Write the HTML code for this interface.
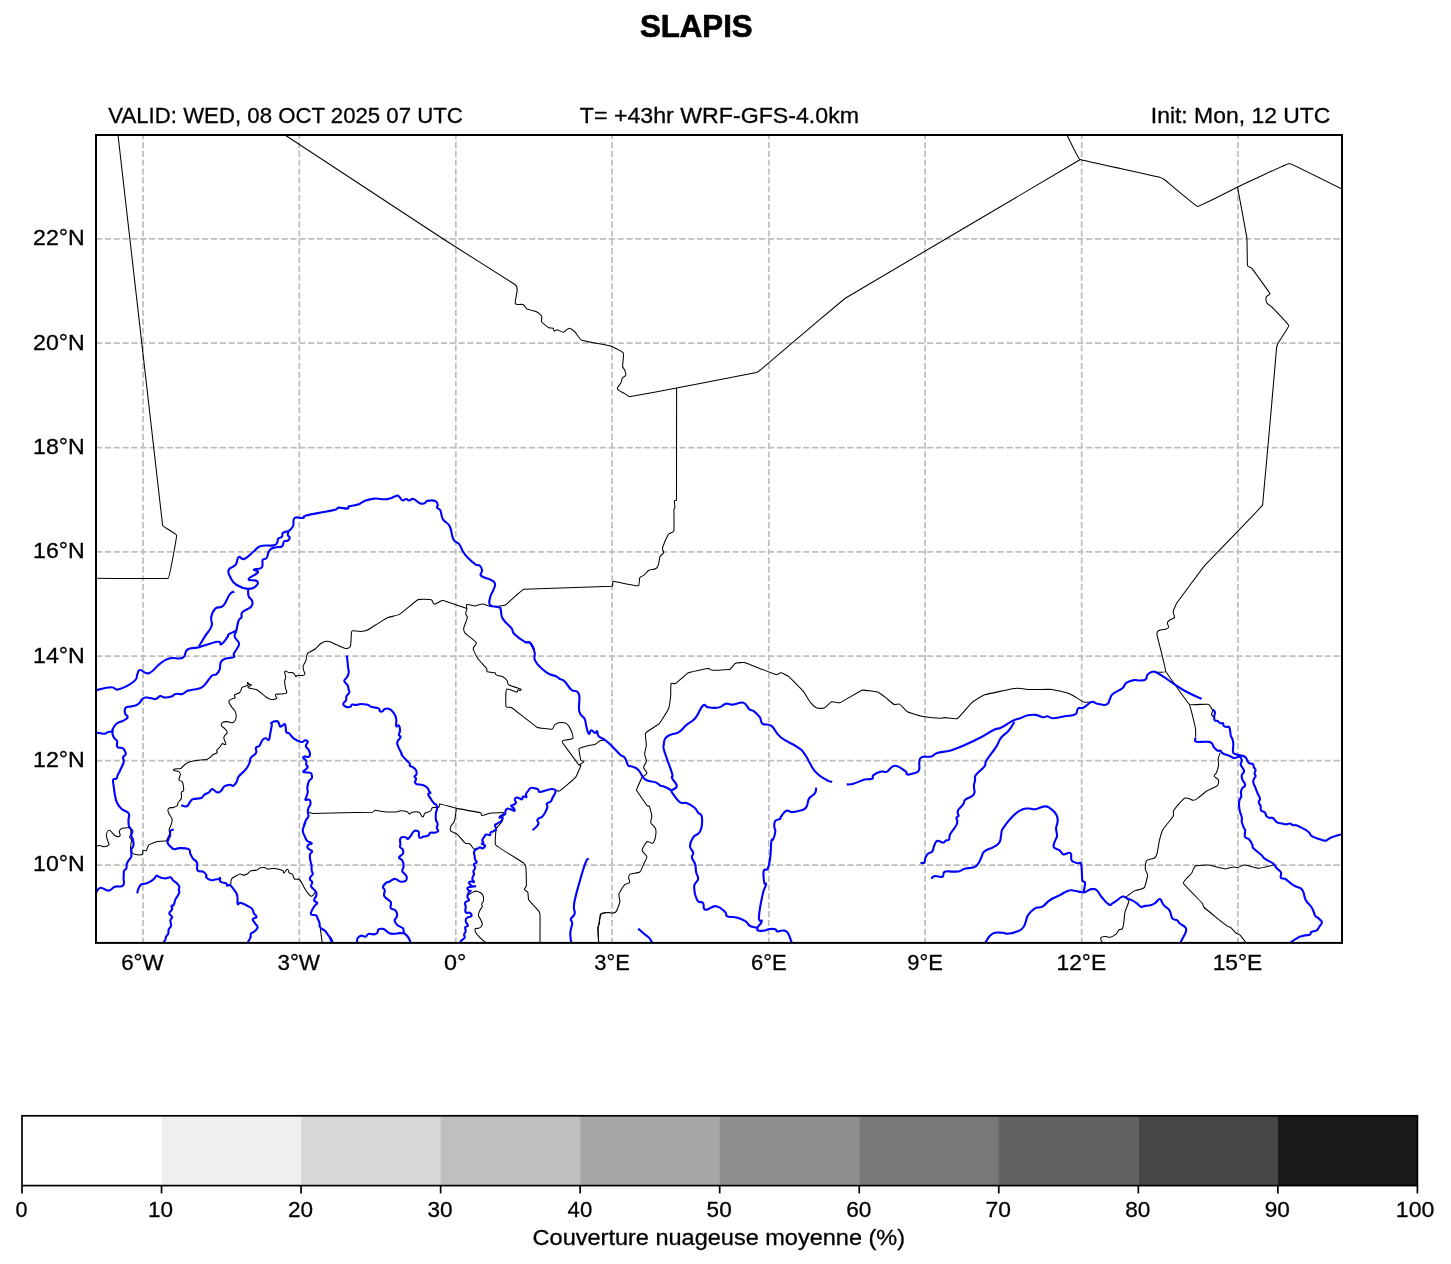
<!DOCTYPE html>
<html><head><meta charset="utf-8"><title>SLAPIS</title>
<style>html,body{margin:0;padding:0;background:#fff}body{width:1451px;height:1264px;overflow:hidden}svg{display:block;will-change:transform}text{font-family:"Liberation Sans",sans-serif;fill:#000}</style></head><body>
<svg width="1451" height="1264" viewBox="0 0 1451 1264">
<rect width="1451" height="1264" fill="#fff"/>
<text transform="translate(639.99 36.90) scale(0.9994 1)" font-size="31.2" stroke="#000" stroke-width="0.7" font-weight="bold">SLAPIS</text>
<text transform="translate(108.30 122.80) scale(0.9741 1)" font-size="22.8" stroke="#000" stroke-width="0.3">VALID: WED, 08 OCT 2025 07 UTC</text>
<text transform="translate(579.82 122.80) scale(1.0164 1)" font-size="22.8" stroke="#000" stroke-width="0.3">T= +43hr WRF-GFS-4.0km</text>
<text transform="translate(1150.77 122.80) scale(1.0053 1)" font-size="22.8" stroke="#000" stroke-width="0.3">Init: Mon, 12 UTC</text>
<defs><clipPath id="c"><rect x="96.0" y="135.0" width="1246.0" height="807.9"/></clipPath></defs>
<g clip-path="url(#c)">
<g stroke="#bfbfbf" stroke-width="1.75" stroke-dasharray="6.17 2.67" fill="none">
<path d="M143.0 943.76V120"/>
<path d="M299.3 943.76V120"/>
<path d="M455.8 943.76V120"/>
<path d="M612.1 943.76V120"/>
<path d="M768.8 943.76V120"/>
<path d="M925.1 943.76V120"/>
<path d="M1081.7 943.76V120"/>
<path d="M1237.9 943.76V120"/>
<path d="M95.98 238.9H1350"/>
<path d="M95.98 343.2H1350"/>
<path d="M95.98 447.6H1350"/>
<path d="M95.98 551.9H1350"/>
<path d="M95.98 656.1H1350"/>
<path d="M95.98 760.7H1350"/>
<path d="M95.98 865.0H1350"/>
</g>
<g stroke="#000" stroke-width="1.05" fill="none" stroke-linejoin="round">
<path d="M118.0 135.0C118.0 135.0 162.4 523.6 162.6 525.2C162.8 526.8 176.4 533.6 176.6 535.2C176.8 536.8 169.6 577.4 168.2 578.2C166.8 579.0 96.0 578.2 96.0 578.2"/>
<path d="M285.0 135.0C285.0 135.0 443.5 239.1 444.8 240.0C446.1 240.9 514.0 283.9 515.3 284.8C516.6 285.7 517.2 288.6 517.2 290.2C517.2 291.8 514.7 302.2 515.3 303.7C515.9 305.2 521.5 303.9 523.0 304.6C524.5 305.3 525.4 308.1 526.8 308.9C528.2 309.7 535.1 311.1 536.5 311.8C537.9 312.5 541.0 314.8 541.7 316.2C542.4 317.6 540.8 320.6 541.7 322.0C542.6 323.4 547.9 327.2 549.0 327.8C550.1 328.4 552.0 327.6 552.9 328.2C553.8 328.8 553.5 330.8 554.4 331.1C555.3 331.4 556.1 329.6 557.1 329.7C558.1 329.8 561.9 332.4 563.5 332.2C565.1 332.0 567.7 328.2 569.3 328.2C570.9 328.2 574.0 331.1 575.1 332.2C576.2 333.3 579.9 339.2 581.3 340.0C582.7 340.8 592.8 342.6 594.4 342.9C596.0 343.2 608.3 345.3 609.8 345.8C611.3 346.3 622.5 351.5 623.3 352.9C624.1 354.3 622.5 364.9 622.6 366.4C622.7 367.9 624.2 368.9 624.7 370.3C625.2 371.7 626.2 373.7 625.8 375.1C625.4 376.5 623.2 376.7 622.4 378.0C621.6 379.3 621.7 381.4 621.0 382.8C620.3 384.2 617.8 386.8 617.5 387.6C617.2 388.4 617.8 389.5 618.5 390.1C619.2 390.7 622.9 392.6 624.3 393.4C625.7 394.2 627.7 395.9 628.7 396.3C629.7 396.7 630.9 396.5 632.0 396.3C633.1 396.1 675.0 388.3 676.6 388.0C678.2 387.7 698.4 383.7 700.0 383.4C701.6 383.1 755.1 372.7 756.5 372.4C757.9 372.1 759.0 371.1 760.1 370.2C761.2 369.3 817.3 321.6 818.5 320.6C819.7 319.6 844.7 298.5 846.1 297.7C847.5 296.9 1079.9 159.8 1079.9 159.8"/>
<path d="M1067.0 135.0C1067.0 135.0 1078.5 158.9 1080.0 159.6C1081.5 160.3 1157.3 176.6 1158.9 177.0C1160.5 177.4 1163.6 179.0 1164.9 180.0C1166.2 181.0 1195.9 206.2 1197.5 206.4C1199.1 206.6 1236.1 187.7 1237.5 187.0C1238.9 186.3 1287.7 163.4 1289.3 163.4C1290.9 163.4 1342.0 189.0 1342.0 189.0"/>
<path d="M1237.5 187.0C1237.5 187.0 1246.7 236.3 1246.9 237.9C1247.1 239.5 1247.2 263.9 1247.5 265.5C1247.8 267.1 1250.9 267.1 1251.9 268.3C1252.9 269.5 1269.2 292.1 1269.9 293.5C1270.6 294.9 1266.8 295.4 1266.3 296.9C1265.8 298.4 1266.1 301.5 1266.9 302.9C1267.7 304.3 1271.6 306.6 1272.7 307.8C1273.8 309.0 1288.4 324.0 1288.7 325.6C1289.0 327.2 1279.6 340.4 1278.8 341.8C1278.0 343.2 1276.8 346.3 1276.6 347.9C1276.4 349.5 1263.1 503.5 1262.6 505.0C1262.1 506.5 1205.9 564.1 1204.8 565.3C1203.7 566.5 1177.9 601.4 1177.0 602.7C1176.1 604.0 1173.5 609.8 1173.2 611.4C1172.9 613.0 1174.9 616.1 1174.4 617.5C1173.9 618.9 1171.5 618.8 1170.4 619.6C1169.3 620.4 1167.7 621.3 1167.4 622.7C1167.1 624.1 1168.9 626.0 1168.6 627.1C1168.3 628.2 1166.8 628.8 1165.7 629.2C1164.6 629.6 1160.0 629.6 1158.7 630.5C1157.4 631.4 1156.7 633.4 1157.0 634.9C1157.3 636.4 1166.0 669.9 1165.7 671.5C1165.4 673.1 1150.9 671.5 1150.9 671.5"/>
<path d="M1165.7 671.5C1165.7 671.5 1188.1 703.4 1189.4 704.4C1190.7 705.4 1206.7 703.8 1208.2 704.2C1209.7 704.6 1212.2 709.3 1212.6 710.5C1213.0 711.7 1211.3 713.1 1211.5 714.3C1211.7 715.5 1213.7 717.1 1213.7 717.1"/>
<path d="M1189.4 704.4C1189.4 704.4 1191.8 712.7 1192.2 714.3C1192.6 715.9 1195.3 727.1 1195.5 728.7C1195.7 730.3 1195.7 736.9 1195.7 736.9"/>
<path d="M1220.1 752.9C1220.1 752.9 1218.3 757.9 1218.1 759.5C1217.9 761.1 1218.8 763.5 1218.6 765.1C1218.4 766.7 1216.9 771.6 1216.4 772.8C1215.9 774.0 1213.9 774.8 1214.2 776.1C1214.5 777.4 1217.6 778.6 1218.1 779.4C1218.6 780.2 1218.7 781.3 1218.6 782.2C1218.5 783.1 1218.1 784.7 1217.5 785.5C1216.9 786.3 1215.7 786.6 1214.8 787.1C1213.9 787.6 1207.3 790.6 1206.0 791.5C1204.7 792.4 1200.6 796.1 1199.3 797.0C1198.0 797.9 1195.3 800.0 1193.8 800.3C1192.3 800.6 1190.8 799.1 1189.4 798.7C1188.0 798.3 1186.3 797.5 1185.0 798.1C1183.7 798.7 1180.7 801.9 1179.6 803.1C1178.5 804.3 1174.2 809.6 1173.5 811.0C1172.8 812.4 1174.0 814.8 1173.2 816.2C1172.4 817.6 1163.9 827.9 1163.1 829.3C1162.3 830.7 1160.0 838.1 1159.6 839.7C1159.2 841.3 1157.4 852.1 1157.0 853.6C1156.6 855.1 1155.7 857.1 1154.4 858.0C1153.1 858.9 1147.5 859.4 1146.5 860.6C1145.5 861.8 1145.2 867.7 1145.3 869.3C1145.4 870.9 1147.7 873.5 1147.6 875.1C1147.5 876.7 1145.3 886.4 1144.3 887.6C1143.3 888.8 1136.0 890.2 1134.6 890.9C1133.2 891.6 1126.8 895.9 1126.0 897.3C1125.2 898.7 1129.0 899.5 1128.9 901.1C1128.8 902.7 1125.4 910.2 1125.0 911.8C1124.6 913.4 1123.9 922.7 1123.6 924.3C1123.3 925.9 1122.7 928.4 1122.1 929.1C1121.5 929.8 1119.9 928.9 1119.2 929.5C1118.5 930.1 1117.5 932.8 1116.3 933.9C1115.1 935.0 1112.1 936.8 1110.5 937.2C1108.9 937.6 1107.3 936.4 1105.7 936.5C1104.1 936.6 1101.7 936.4 1100.9 937.8C1100.1 939.2 1102.4 942.6 1102.4 942.6"/>
<path d="M1273.6 865.1C1273.6 865.1 1259.8 868.3 1258.2 868.3C1256.6 868.3 1246.2 865.2 1244.6 865.1C1243.0 865.0 1239.5 867.1 1237.9 867.4C1236.3 867.7 1234.7 866.8 1233.1 867.0C1231.5 867.2 1226.9 869.0 1225.3 868.9C1223.7 868.8 1210.5 865.3 1208.9 865.1C1207.3 864.9 1196.8 865.3 1195.4 866.0C1194.0 866.7 1192.5 871.9 1191.6 873.2C1190.7 874.5 1182.8 881.7 1183.3 883.2C1183.8 884.7 1201.2 901.9 1202.2 903.1C1203.2 904.3 1202.9 906.4 1204.1 907.5C1205.3 908.6 1226.5 925.6 1227.3 926.2C1228.1 926.8 1229.4 926.6 1230.2 927.2C1231.0 927.8 1234.9 932.1 1236.0 933.0C1237.1 933.9 1238.8 933.9 1239.8 934.9C1240.8 935.9 1246.0 942.6 1246.0 942.6"/>
<path d="M636.3 790.1C636.3 790.1 641.2 778.8 642.1 777.4C643.0 776.0 646.7 774.8 646.9 773.2C647.1 771.6 643.7 769.0 643.6 767.4C643.5 765.8 646.3 762.8 646.4 761.2C646.5 759.6 644.6 755.5 644.6 753.9C644.6 752.3 646.3 746.8 646.4 745.2C646.5 743.6 644.8 734.6 645.6 733.2C646.4 731.8 658.4 724.6 659.5 723.4C660.6 722.2 668.1 710.0 668.7 708.5C669.3 707.0 670.5 697.6 670.7 696.0C670.9 694.4 670.5 685.3 671.1 683.8C671.7 682.3 674.6 684.3 675.9 683.4C677.2 682.5 687.0 673.5 688.4 672.8C689.8 672.1 706.1 668.6 707.7 668.4C709.3 668.2 710.9 670.2 712.5 670.3C714.1 670.4 728.4 669.8 729.9 669.3C731.4 668.8 733.6 664.2 735.1 663.5C736.6 662.8 742.9 662.2 744.4 662.6C745.9 663.0 774.7 674.3 776.2 674.7C777.7 675.1 779.4 672.5 781.0 672.8C782.6 673.1 787.6 675.7 788.8 676.7C790.0 677.7 802.2 689.9 803.2 691.1C804.2 692.3 809.0 700.6 810.0 701.8C811.0 703.0 815.3 707.3 816.8 707.9C818.3 708.5 823.0 708.5 824.5 707.9C826.0 707.3 830.1 702.3 831.6 701.8C833.1 701.3 838.4 703.3 839.9 702.7C841.4 702.1 860.6 690.6 862.1 690.2C863.6 689.8 875.9 691.6 877.4 692.1C878.9 692.6 884.7 696.9 886.0 697.9C887.3 698.9 892.8 703.9 894.3 704.6C895.8 705.3 898.2 703.3 899.6 704.1C901.0 704.9 905.9 711.0 907.3 711.8C908.7 712.6 920.2 715.9 921.8 716.2C923.4 716.5 937.5 718.2 939.1 718.3C940.7 718.4 943.3 717.6 944.9 717.6C946.5 717.6 956.0 719.2 957.4 718.5C958.8 717.8 969.1 705.6 970.0 704.6C970.9 703.6 971.8 702.4 972.9 701.7C974.0 701.0 983.9 695.1 985.4 694.6C986.9 694.1 1010.8 689.1 1012.4 688.8C1014.0 688.5 1016.6 688.1 1018.2 688.2C1019.8 688.3 1026.3 689.3 1027.9 689.4C1029.5 689.5 1050.4 689.3 1052.0 689.4C1053.6 689.5 1065.9 692.6 1067.4 693.1C1068.9 693.6 1072.8 695.5 1074.2 696.3C1075.6 697.1 1082.3 701.6 1083.8 702.1C1085.3 702.6 1090.6 702.1 1090.6 702.1"/>
<path d="M636.3 790.0C636.3 790.0 646.3 804.7 646.9 805.4C647.5 806.1 649.0 805.6 649.4 806.4C649.8 807.2 651.7 814.5 651.8 816.1C651.9 817.7 650.3 821.3 650.8 822.8C651.3 824.3 655.1 827.1 655.6 828.6C656.1 830.1 655.9 834.7 655.6 836.3C655.3 837.9 654.1 842.3 652.7 843.1C651.3 843.9 648.2 840.8 646.9 841.7C645.6 842.6 642.1 848.6 642.1 850.2C642.1 851.8 646.7 855.0 646.9 856.6C647.1 858.2 644.7 861.8 644.0 863.3C643.3 864.8 641.1 871.0 639.8 872.0C638.5 873.0 631.8 873.2 630.5 873.9C629.2 874.6 628.7 876.4 628.6 877.8C628.5 879.2 630.4 881.2 629.6 882.6C628.8 884.0 625.8 883.4 624.7 884.6C623.6 885.8 619.3 892.7 618.9 894.2C618.5 895.7 620.2 900.3 619.9 901.9C619.6 903.5 616.9 910.5 616.1 911.6C615.3 912.7 613.6 913.0 612.2 913.1C610.8 913.2 609.0 912.4 607.4 912.5C605.8 912.6 601.5 912.8 600.6 914.1C599.7 915.4 599.6 922.7 599.3 924.1C599.0 925.5 597.7 926.6 597.7 928.0C597.7 929.4 598.7 942.5 598.7 942.5"/>
<path d="M676.6 388.0C676.6 388.0 676.5 499.2 676.5 499.9C676.5 500.6 674.7 500.2 674.5 500.9C674.3 501.6 675.0 506.9 674.9 507.6C674.8 508.3 673.9 508.9 673.9 509.6C673.9 510.3 674.2 529.2 673.9 530.8C673.6 532.4 670.0 533.0 669.1 533.7C668.2 534.4 667.7 535.6 667.2 536.6C666.7 537.6 663.7 544.5 663.3 545.6C662.9 546.7 662.3 547.9 662.4 549.1C662.5 550.3 664.1 551.4 663.7 552.6C663.3 553.8 660.5 555.3 659.9 556.8C659.3 558.3 659.0 563.1 658.5 564.6C658.0 566.1 657.0 568.0 655.6 568.8C654.2 569.6 650.3 569.5 648.9 570.3C647.5 571.1 645.2 574.2 644.0 575.2C642.8 576.2 640.6 576.3 639.8 577.7C639.0 579.1 639.8 585.6 638.2 585.8C636.6 586.0 614.6 581.4 614.1 581.3C613.6 581.2 613.0 581.5 612.8 581.9C612.6 582.3 613.3 586.1 611.8 586.2C610.3 586.3 525.5 589.0 523.9 589.3C522.3 589.6 507.4 603.4 506.6 604.1C505.8 604.8 504.7 605.3 503.7 605.5C502.7 605.7 492.7 606.7 491.1 606.6C489.5 606.5 484.1 604.2 482.5 604.1C480.9 604.0 476.3 606.0 474.7 606.0C473.1 606.0 468.3 604.1 467.0 604.5C465.7 604.9 467.0 608.6 467.0 608.6"/>
<path d="M467.0 608.6C467.0 608.6 447.0 601.6 445.8 601.2C444.6 600.8 443.2 600.3 441.9 600.6C440.6 600.9 435.8 604.2 434.2 604.1C432.6 604.0 432.8 600.1 431.3 599.7C429.8 599.3 419.3 599.0 417.8 599.7C416.3 600.4 400.9 613.6 399.5 614.4C398.1 615.2 389.4 617.0 387.9 617.6C386.4 618.2 377.4 623.9 376.0 624.7C374.6 625.5 368.6 629.6 367.1 630.2C365.6 630.8 362.1 631.3 360.5 631.4C358.9 631.5 353.4 630.7 352.7 630.8C352.0 630.9 351.5 631.8 351.4 632.5C351.3 633.2 351.0 644.7 350.5 646.2C350.0 647.7 347.2 648.5 345.6 648.4C344.0 648.3 338.8 645.7 337.3 645.1C335.8 644.5 332.1 642.5 330.7 642.0C329.3 641.5 327.8 641.1 326.3 641.3C324.8 641.5 322.1 642.6 320.8 643.5C319.5 644.4 316.5 648.0 315.2 649.0C313.9 650.0 308.5 652.2 307.5 653.4C306.5 654.6 306.4 659.1 305.9 660.6C305.4 662.1 303.4 664.7 303.1 666.1C302.8 667.5 303.4 669.2 303.7 670.5C304.0 671.8 305.3 673.3 304.8 674.4C304.3 675.5 302.6 675.3 301.5 675.5C300.4 675.7 297.5 675.4 297.0 675.5C296.5 675.6 296.3 676.9 295.9 676.6C295.5 676.3 294.9 674.4 294.3 673.8C293.7 673.2 292.9 672.7 292.1 672.5C291.3 672.3 289.9 672.9 288.8 672.7C287.7 672.5 285.7 670.2 284.9 671.3C284.1 672.4 285.7 675.6 285.7 677.1C285.7 678.6 284.6 680.0 284.6 681.5C284.6 683.0 285.3 686.5 285.5 688.1C285.7 689.7 287.7 692.2 286.4 693.1C285.1 694.0 276.7 694.1 276.1 694.2C275.5 694.3 275.4 695.3 275.5 695.9C275.6 696.5 277.4 698.0 276.6 698.6C275.8 699.2 272.7 699.6 271.1 699.4C269.5 699.2 268.0 698.4 266.7 697.5C265.4 696.6 258.2 690.6 256.8 689.8C255.4 689.0 249.6 688.3 249.1 688.1C248.6 687.9 247.7 687.4 248.0 687.0C248.3 686.6 251.0 685.8 251.3 685.1C251.6 684.4 249.8 684.7 249.1 684.3C248.4 683.9 248.0 682.1 247.4 682.6C246.8 683.1 248.5 684.4 248.0 685.1C247.5 685.8 245.6 686.1 244.7 686.5C243.8 686.9 242.5 687.0 241.9 687.6C241.3 688.2 241.5 689.2 241.1 690.0C240.7 690.8 240.3 692.2 239.4 692.8C238.5 693.4 235.0 694.3 234.4 695.0C233.8 695.7 235.6 697.1 235.0 697.8C234.4 698.5 231.4 698.8 230.5 699.4C229.6 700.0 228.7 701.2 228.9 702.2C229.1 703.2 231.3 706.4 232.2 707.7C233.1 709.0 234.7 710.1 235.3 711.6C235.9 713.1 236.3 716.1 236.1 717.7C235.9 719.3 234.6 721.4 233.9 722.1C233.2 722.8 232.0 722.8 231.1 722.7C230.2 722.6 228.5 721.6 227.2 721.6C225.9 721.6 223.1 722.0 222.2 722.7C221.3 723.4 221.2 725.0 221.7 726.0C222.2 727.0 224.1 727.7 225.0 728.8C225.9 729.9 227.3 731.2 227.2 732.6C227.1 734.0 224.8 735.2 224.4 736.0C224.0 736.8 223.7 737.8 223.9 738.7C224.1 739.6 226.2 743.2 225.8 744.3C225.4 745.4 223.3 743.2 222.2 743.7C221.1 744.2 220.8 746.0 220.0 747.0C219.2 748.0 217.0 749.6 216.7 750.3C216.4 751.0 217.7 752.0 217.2 752.6C216.7 753.2 213.4 754.4 212.8 754.8C212.2 755.2 211.8 755.9 211.2 756.4C210.6 756.9 208.5 758.7 207.3 759.2C206.1 759.7 204.7 759.6 203.4 759.8C202.1 760.0 199.5 760.1 197.9 760.3C196.3 760.5 191.6 761.3 190.1 761.8C188.6 762.3 185.9 763.8 184.6 764.7C183.3 765.6 182.2 768.0 180.7 768.6C179.2 769.2 174.5 768.2 173.5 769.5C172.5 770.8 177.6 770.8 178.5 771.4C179.4 772.0 180.3 773.1 180.4 774.2C180.5 775.3 178.7 778.4 179.0 779.7C179.3 781.0 181.7 780.7 182.4 781.9C183.1 783.1 183.4 786.3 183.5 787.4C183.6 788.5 183.9 790.0 183.5 790.8C183.1 791.6 181.5 791.5 181.3 792.4C181.1 793.3 181.8 797.0 181.3 798.5C180.8 800.0 178.3 802.1 177.9 802.9C177.5 803.7 178.1 805.0 177.4 805.7C176.7 806.4 174.8 807.0 173.5 807.4C172.2 807.8 169.5 807.4 168.5 808.5C167.5 809.6 168.0 811.5 168.5 812.9C169.0 814.3 171.4 817.2 171.8 818.4C172.2 819.6 172.1 821.0 171.8 822.3C171.5 823.6 169.8 827.9 169.6 828.4C169.4 828.9 169.1 829.4 169.1 830.0C169.1 830.6 169.9 832.9 169.5 834.2C169.1 835.5 166.2 841.0 166.2 841.0"/>
<path d="M166.2 841.0C166.2 841.0 159.1 841.2 157.5 841.5C155.9 841.8 150.1 843.8 148.9 844.8C147.7 845.8 147.0 849.9 146.3 850.6C145.6 851.3 143.9 849.9 143.1 850.6C142.3 851.3 143.3 853.9 142.1 854.5C140.9 855.1 136.5 854.7 135.3 854.5C134.1 854.3 132.9 853.5 132.1 852.5C131.3 851.5 130.6 850.1 130.5 848.7C130.4 847.3 131.6 841.1 131.5 840.0C131.4 838.9 129.7 838.1 129.6 837.1C129.5 836.1 130.8 835.2 130.9 834.2C131.0 833.2 130.5 827.5 130.5 827.5"/>
<path d="M130.5 827.5C130.5 827.5 123.0 828.0 121.8 828.4C120.6 828.8 119.6 830.1 119.3 831.3C119.0 832.5 120.9 834.7 119.9 835.8C118.9 836.9 116.5 836.5 115.1 835.8C113.7 835.1 110.9 830.4 109.3 830.3C107.7 830.2 106.6 833.6 106.4 835.2C106.2 836.8 107.5 839.7 107.8 841.0C108.1 842.3 109.7 843.8 108.9 844.8C108.1 845.8 104.9 846.6 103.5 846.7C102.1 846.8 100.9 845.4 99.6 845.4C98.3 845.4 96.0 846.7 96.0 846.7"/>
<path d="M467.0 608.6C467.0 608.6 465.6 612.4 465.7 613.8C465.8 615.2 467.6 616.2 467.4 617.6C467.2 619.0 463.9 626.6 463.7 628.2C463.5 629.8 464.1 631.9 465.1 633.1C466.1 634.3 475.6 641.3 476.3 642.7C477.0 644.1 473.1 647.1 473.2 648.7C473.3 650.3 476.7 657.0 477.6 658.3C478.5 659.6 486.1 667.7 486.7 668.6C487.3 669.5 486.3 671.3 487.3 671.8C488.3 672.3 494.2 672.5 495.0 672.8C495.8 673.1 495.5 674.7 496.3 675.1C497.1 675.5 501.3 676.0 502.7 676.7C504.1 677.4 506.2 679.3 507.1 680.5C508.0 681.7 507.2 684.0 508.5 684.8C509.8 685.6 520.5 689.0 521.0 689.2C521.5 689.4 520.6 690.5 520.1 690.6C519.6 690.7 518.8 689.5 518.2 689.8C517.6 690.1 517.7 692.1 516.8 692.1C515.9 692.1 507.6 687.9 506.6 689.2C505.6 690.5 505.6 705.1 506.0 706.6C506.4 708.1 510.1 706.6 511.4 707.5C512.7 708.4 535.5 726.4 536.9 727.2C538.3 728.0 550.3 729.4 551.9 729.2C553.5 729.0 553.6 725.9 554.8 724.9C556.0 723.9 558.0 722.8 559.6 722.6C561.2 722.4 565.0 722.7 566.4 723.6C567.8 724.5 570.2 728.2 570.8 729.7C571.4 731.2 573.7 737.1 572.8 738.4C571.9 739.7 564.3 740.0 563.5 740.3C562.7 740.6 562.0 742.0 562.5 742.7C563.0 743.4 578.5 764.5 578.9 765.0C579.3 765.5 581.1 764.8 580.9 765.4C580.7 766.0 576.5 776.2 575.5 777.4C574.5 778.6 561.0 790.1 559.6 790.9C558.2 791.7 554.8 789.6 554.8 789.6"/>
<path d="M578.9 765.0C578.9 765.0 583.4 762.5 583.8 761.6C584.2 760.7 581.3 761.5 580.9 760.6C580.5 759.7 578.9 749.8 578.9 749.0C578.9 748.2 580.2 748.0 580.9 747.7C581.6 747.4 588.4 745.5 590.0 745.2C591.6 744.9 593.3 745.2 594.8 744.6C596.3 744.0 597.9 742.1 598.9 741.5C599.9 740.9 601.3 740.5 602.1 740.3C602.9 740.1 604.5 740.3 604.5 740.3"/>
<path d="M309.0 812.6C309.0 812.6 311.6 813.4 312.9 813.4C314.2 813.4 371.4 812.3 372.5 812.2C373.6 812.1 374.2 810.3 375.3 810.3C376.4 810.3 382.4 811.7 384.0 811.8C385.6 811.9 396.5 811.9 397.5 811.8C398.5 811.7 399.4 810.8 400.4 810.8C401.4 810.8 406.2 811.4 407.2 811.8C408.2 812.2 408.5 814.0 409.5 814.1C410.5 814.2 411.0 812.4 412.0 812.2C413.0 812.0 417.7 811.5 419.2 812.2C420.7 812.9 421.2 816.7 422.6 817.0C424.0 817.3 423.7 814.1 424.9 813.2C426.1 812.3 429.2 812.0 430.3 811.2C431.4 810.4 431.3 808.5 432.3 807.8C433.3 807.1 434.7 807.5 435.8 807.4C436.9 807.3 438.2 807.7 439.0 807.0C439.8 806.3 438.9 803.8 440.0 803.9C441.1 804.0 454.8 808.0 456.4 808.3C458.0 808.6 479.5 812.5 480.5 812.8C481.5 813.1 481.1 815.5 482.1 815.5C483.1 815.5 488.6 813.4 490.2 813.2C491.8 813.0 503.7 812.6 503.7 812.6"/>
<path d="M456.4 808.3C456.4 808.3 455.0 819.4 454.5 820.9C454.0 822.4 451.1 825.4 450.6 826.7C450.1 828.0 449.7 829.9 450.6 830.9C451.5 831.9 456.2 833.4 457.4 834.4C458.6 835.4 463.8 842.1 465.1 843.1C466.4 844.1 468.6 843.1 469.9 844.0C471.2 844.9 472.9 848.4 473.8 848.9C474.7 849.4 476.7 847.9 476.7 847.9"/>
<path d="M467.9 895.2C467.9 895.2 472.4 892.4 473.4 891.9C474.4 891.4 475.6 891.0 476.7 891.2C477.8 891.4 480.1 892.2 481.1 893.0C482.1 893.8 483.0 895.1 483.3 896.4C483.6 897.7 483.5 900.3 483.3 901.3C483.1 902.3 481.9 903.2 481.7 904.1C481.5 905.0 482.4 905.9 482.2 906.8C482.0 907.7 480.5 908.9 480.0 910.1C479.5 911.3 478.3 913.5 478.4 915.1C478.5 916.7 480.0 918.2 480.6 919.5C481.2 920.8 482.1 922.3 482.2 923.4C482.3 924.5 481.7 925.9 481.1 926.7C480.5 927.5 479.4 927.9 478.4 928.3C477.4 928.7 475.5 927.9 475.1 928.9C474.7 929.9 475.5 932.0 476.2 933.3C476.9 934.6 478.9 936.6 480.0 937.7C481.1 938.8 483.8 941.1 484.5 941.6C485.2 942.1 486.7 942.7 486.7 942.7"/>
<path d="M503.7 812.6C503.7 812.6 502.5 820.3 501.8 821.8C501.1 823.3 496.7 827.1 496.3 828.6C495.9 830.1 494.6 843.7 495.6 845.0C496.6 846.3 522.7 862.4 523.9 863.3C525.1 864.2 525.7 865.8 525.9 867.2C526.1 868.6 526.5 884.1 526.4 885.5C526.3 886.9 524.2 888.0 524.5 889.4C524.8 890.8 527.3 891.0 527.8 892.3C528.3 893.6 528.0 898.6 528.8 900.0C529.6 901.4 537.5 909.5 538.4 910.6C539.3 911.7 539.9 913.1 540.0 914.5C540.1 915.9 540.0 942.5 540.0 942.5"/>
<path d="M610.0 912.5C610.0 912.5 602.1 912.8 601.1 914.1C600.1 915.4 598.3 926.4 598.2 928.0C598.1 929.6 598.6 942.5 598.6 942.5"/>
<path d="M230.9 884.4C230.9 884.4 230.7 879.8 231.8 878.6C232.9 877.4 238.9 874.3 240.0 874.0C241.1 873.7 242.2 875.1 243.3 875.1C244.4 875.1 246.0 874.7 247.2 874.0C248.4 873.3 249.5 871.3 251.0 870.7C252.5 870.1 255.2 870.6 256.5 870.2C257.8 869.8 258.6 868.4 259.8 868.0C261.0 867.6 263.8 867.5 264.8 867.6C265.8 867.7 266.6 869.0 267.6 869.1C268.6 869.2 271.5 868.5 273.1 868.5C274.7 868.5 278.6 869.1 279.7 869.4C280.8 869.7 282.4 870.2 283.0 870.7C283.6 871.2 283.3 873.1 284.1 872.9C284.9 872.7 286.1 869.3 287.4 869.3C288.7 869.3 288.3 872.1 289.1 872.9C289.9 873.7 291.6 873.1 292.4 874.0C293.2 874.9 293.3 878.0 294.6 879.0C295.9 880.0 298.3 878.4 299.5 879.5C300.7 880.6 303.2 885.9 304.0 887.3C304.8 888.7 307.7 893.0 308.4 893.9C309.1 894.8 310.3 896.1 311.1 896.3C311.9 896.5 312.7 895.6 313.3 895.0C313.9 894.4 315.0 892.2 315.0 892.2"/>
<path d="M320.3 928.6L322.2 942.4"/>
</g>
<g stroke="#0000ff" stroke-width="2.1" fill="none" stroke-linejoin="round" stroke-linecap="butt">
<path d="M534.2 650.0C533.2 648.3 531.9 644.6 529.7 642.7C527.5 640.8 528.5 643.8 524.9 641.8C521.3 639.8 517.4 637.2 514.3 634.0C511.1 630.8 514.1 631.8 511.4 628.2C508.7 624.6 505.2 622.9 502.7 618.6C500.2 614.3 501.7 612.5 500.8 609.9C499.9 607.3 501.4 608.5 498.9 607.4C496.4 606.3 492.2 607.4 490.2 605.1C488.2 602.8 489.5 600.8 490.2 597.4C490.9 594.0 492.0 593.8 493.1 590.6C494.2 587.5 495.5 586.4 495.0 583.9C494.5 581.4 494.3 581.9 491.1 580.0C487.9 578.1 483.2 578.1 481.1 575.8C479.0 573.5 482.5 572.7 482.1 570.3C481.8 567.9 481.1 566.8 479.6 565.5C478.1 564.2 478.2 566.2 475.7 564.6C473.2 563.0 471.8 561.7 468.9 558.8C466.0 555.9 465.4 555.4 463.2 552.0C461.0 548.6 461.6 547.2 459.3 544.3C457.0 541.4 455.8 543.8 453.5 539.5C451.2 535.2 452.1 530.7 449.6 526.0C447.1 521.3 445.0 522.8 442.9 519.2C440.8 515.6 441.8 513.2 440.4 510.5C439.0 507.8 437.7 509.0 437.1 507.6C436.5 506.2 438.1 506.3 437.7 504.7C437.3 503.1 437.6 501.8 435.2 500.9C432.8 500.0 430.0 500.4 427.5 500.9C425.0 501.4 426.4 502.7 424.6 503.2C422.8 503.7 422.3 504.2 419.7 503.2C417.1 502.2 415.9 499.6 413.4 499.0C410.9 498.4 410.8 500.5 409.1 500.5C407.4 500.5 407.8 499.0 406.2 499.0C404.6 499.0 404.1 500.9 402.4 500.3C400.7 499.7 400.5 497.7 399.1 496.6C397.7 495.5 398.8 495.2 396.6 495.7C394.4 496.2 392.7 497.8 389.8 498.6C386.9 499.4 387.6 499.3 384.0 499.3C380.4 499.3 378.9 498.2 374.4 498.6C369.9 499.0 368.3 499.6 364.7 500.9C361.1 502.2 362.5 503.0 358.9 504.3C355.3 505.6 352.0 505.3 349.3 506.3C346.6 507.3 349.9 508.3 347.4 508.6C344.9 508.9 341.4 507.4 338.7 507.6C336.0 507.8 338.9 508.6 335.8 509.6C332.7 510.6 332.3 510.3 325.4 511.7C318.5 513.1 311.3 514.0 306.1 515.5C300.9 517.0 305.9 517.4 303.2 518.0C300.5 518.6 297.0 516.1 294.6 518.0C292.2 519.9 294.4 523.1 293.0 526.1C291.6 529.1 289.8 529.9 288.8 531.0"/>
<path d="M288.8 531.0C287.4 531.4 284.6 531.6 283.0 532.9C281.4 534.2 283.1 535.3 282.0 536.7C280.9 538.1 279.3 537.3 278.2 538.7C277.1 540.1 278.3 540.9 277.2 542.5C276.1 544.1 277.1 544.6 273.3 545.4C269.5 546.2 265.3 544.6 260.8 546.0C256.3 547.4 257.8 548.2 254.0 551.2C250.2 554.2 248.0 557.5 244.4 558.9C240.8 560.3 240.6 555.6 238.6 557.0C236.6 558.4 238.0 561.6 235.7 564.7C233.4 567.8 229.7 567.0 228.6 570.1C227.5 573.2 229.0 574.7 230.9 578.2C232.8 581.7 232.7 582.5 236.7 585.0C240.7 587.5 243.7 588.7 248.2 588.9C252.7 589.1 254.0 587.8 256.0 586.0C258.0 584.2 258.6 582.7 256.9 581.1C255.2 579.5 248.4 581.2 248.6 579.2C248.8 577.2 256.6 574.6 257.9 572.4C259.2 570.2 253.1 570.7 254.0 569.6C254.9 568.5 259.7 569.9 261.7 567.6C263.7 565.3 261.6 562.1 262.7 559.9C263.8 557.7 265.0 560.2 266.6 558.0C268.2 555.8 267.5 552.8 269.5 550.3C271.5 547.8 272.4 548.3 275.3 547.4C278.2 546.5 280.0 547.8 282.0 546.4C284.0 545.0 282.6 543.0 284.0 541.6C285.4 540.2 286.5 541.5 287.8 540.6C289.1 539.7 289.7 539.1 289.7 537.7C289.7 536.3 288.0 536.4 287.8 534.8C287.6 533.2 288.6 531.9 288.8 531.0"/>
<path d="M248.2 588.3C248.3 590.1 247.7 593.2 248.6 596.1C249.5 599.0 251.5 598.4 252.1 600.9C252.7 603.4 253.4 604.1 251.1 606.7C248.8 609.3 244.6 609.6 242.4 612.1C240.2 614.6 242.4 615.3 241.5 617.3C240.6 619.3 239.8 617.5 238.6 620.6C237.4 623.8 237.2 627.1 236.3 630.8C235.4 634.5 234.1 633.7 234.7 636.6C235.3 639.5 238.5 640.4 239.0 643.3C239.5 646.2 237.9 646.6 236.7 649.1C235.5 651.6 234.5 652.0 233.8 653.9C233.1 655.8 235.8 656.1 233.8 657.2C231.8 658.3 228.1 657.6 225.1 658.8C222.1 660.0 222.1 659.7 220.8 662.2C219.5 664.7 220.7 666.6 219.7 669.4C218.7 672.2 218.3 672.6 216.4 674.2C214.5 675.8 214.5 673.4 211.6 676.1C208.7 678.8 207.1 682.9 203.9 685.8C200.8 688.7 201.1 687.7 198.1 688.7C195.1 689.7 193.8 689.4 191.2 690.0C188.6 690.6 188.9 690.2 186.8 691.1C184.7 692.0 185.0 693.2 182.4 693.9C179.8 694.6 178.3 693.3 175.7 693.9C173.1 694.5 173.9 695.8 171.3 696.6C168.7 697.4 167.3 697.6 164.7 697.5C162.1 697.4 162.3 695.8 160.2 696.1C158.1 696.4 158.1 698.5 155.8 698.9C153.5 699.3 152.5 698.3 150.3 698.0C148.1 697.7 148.2 697.3 146.4 697.5C144.6 697.7 144.2 697.5 142.5 698.9C140.8 700.3 140.9 701.8 139.2 703.3C137.5 704.8 137.4 704.7 135.3 705.5C133.2 706.3 132.4 706.2 130.3 706.6C128.2 707.0 127.7 706.4 126.4 707.2C125.1 708.0 125.1 708.4 124.8 709.9C124.5 711.4 124.6 712.2 125.3 713.8C126.0 715.4 127.3 715.4 127.6 716.6C127.9 717.8 127.6 717.8 126.4 718.8C125.2 719.8 124.5 720.1 122.6 721.0C120.7 721.9 119.8 721.8 118.1 722.7C116.4 723.6 116.7 723.4 115.4 724.9C114.1 726.4 113.4 727.8 112.6 729.3C111.8 730.8 113.1 730.9 112.1 731.5C111.1 732.1 109.9 731.4 108.2 731.9C106.5 732.4 106.7 733.4 104.9 733.7C103.1 734.0 102.5 733.5 100.4 733.2C98.3 732.9 97.0 732.7 96.0 732.6"/>
<path d="M112.6 729.9C112.6 730.9 112.2 732.4 112.6 734.3C113.0 736.2 113.3 736.7 114.3 738.2C115.3 739.7 116.4 739.1 117.0 740.9C117.6 742.7 116.6 744.3 117.0 745.9C117.4 747.5 117.4 747.1 118.7 747.6C120.0 748.1 121.2 747.3 122.6 748.1C124.0 748.9 124.1 749.5 124.8 750.9C125.5 752.3 126.1 752.7 125.7 754.2C125.3 755.7 123.6 755.7 123.1 757.5C122.6 759.3 124.3 759.2 123.7 762.0C123.1 764.8 121.8 766.6 120.4 769.7C119.0 772.8 118.5 773.2 117.6 775.3C116.7 777.4 117.5 777.6 116.5 778.6C115.5 779.6 113.9 777.9 113.2 779.7C112.5 781.5 113.1 781.7 113.7 786.3C114.3 790.9 114.6 794.9 115.9 799.6C117.2 804.3 117.7 804.0 119.3 806.3C120.9 808.6 120.4 807.9 122.6 809.6C124.8 811.3 127.3 811.1 128.7 813.5C130.1 815.9 128.4 816.9 128.5 820.0C128.6 823.1 128.2 824.0 129.1 826.6C130.0 829.2 131.9 828.9 132.4 831.0C132.9 833.1 131.2 833.3 131.3 835.4C131.4 837.5 132.4 837.5 132.9 839.8C133.4 842.1 133.9 843.1 133.5 845.4C133.1 847.7 131.8 847.2 131.3 849.8C130.8 852.4 131.8 854.1 131.3 856.4C130.8 858.7 130.1 858.0 129.1 859.7C128.1 861.4 127.6 861.5 126.9 863.6C126.2 865.7 127.0 866.8 126.3 868.5C125.6 870.2 124.7 868.6 124.1 870.7C123.5 872.8 123.9 873.8 123.6 877.3C123.3 880.8 125.1 883.4 123.0 885.6C120.9 887.8 118.0 885.5 114.7 886.7C111.4 887.9 112.0 890.3 108.7 890.6C105.4 890.9 103.4 887.3 100.4 887.8C97.4 888.3 97.0 891.6 96.0 892.8"/>
<path d="M236.3 630.8C234.6 631.6 231.0 632.6 228.9 634.1C226.8 635.6 229.2 634.8 227.4 637.2C225.6 639.6 223.5 643.2 221.2 644.3C218.9 645.4 222.6 641.1 217.4 641.8C212.2 642.5 206.0 645.4 199.0 647.2C192.0 649.0 191.3 647.0 187.5 649.5C183.7 652.0 186.9 655.7 182.6 657.8C178.3 659.9 174.5 656.9 169.1 658.4C163.7 659.9 164.2 660.7 159.5 664.2C154.8 667.7 153.4 671.8 148.9 673.2C144.4 674.6 142.9 669.8 140.2 670.0C137.5 670.2 138.7 671.6 137.3 674.2C135.9 676.8 138.7 677.5 134.4 681.0C130.1 684.5 124.3 687.8 118.9 689.3C113.5 690.8 116.5 687.1 111.2 687.3C105.9 687.5 99.5 689.5 96.0 690.2"/>
<path d="M199.0 646.2C200.4 644.0 201.9 641.3 204.8 636.6C207.7 631.9 210.1 630.5 211.6 626.0C213.1 621.5 210.3 621.4 211.2 617.3C212.1 613.2 212.6 611.3 215.4 608.6C218.2 605.9 219.8 609.1 223.2 605.7C226.6 602.3 227.3 597.3 229.9 594.1C232.5 590.9 233.3 592.3 234.3 591.8"/>
<path d="M346.8 655.5C347.0 657.0 347.3 659.1 347.6 662.1C347.9 665.1 347.9 665.8 348.2 668.2C348.5 670.7 349.0 670.5 348.7 672.6C348.4 674.7 348.1 675.1 347.1 677.0C346.1 678.9 344.2 679.0 344.3 680.9C344.4 682.8 346.6 683.2 347.6 685.3C348.6 687.4 348.3 688.0 348.7 689.7C349.1 691.4 349.8 691.0 349.3 692.5C348.8 694.0 347.3 694.5 346.5 696.3C345.7 698.1 346.8 698.4 346.0 700.2C345.2 702.0 343.2 702.5 343.2 704.0C343.2 705.5 344.3 706.1 346.0 706.8C347.7 707.5 349.0 707.3 350.4 706.8C351.8 706.3 350.7 705.0 352.1 704.6C353.5 704.2 354.4 705.0 356.5 704.9C358.6 704.8 358.3 704.0 360.9 704.0C363.5 704.0 364.9 704.1 367.5 704.8C370.1 705.5 369.3 706.3 371.9 707.1C374.5 707.9 376.6 707.4 378.5 708.4C380.4 709.4 379.2 710.8 380.2 711.5C381.2 712.2 381.9 711.8 382.9 711.2C383.9 710.6 383.1 709.5 384.6 709.0C386.1 708.5 387.3 708.0 389.5 709.0C391.7 710.0 392.4 711.1 394.0 713.4C395.6 715.7 395.7 715.9 396.2 718.9C396.7 721.9 395.6 724.6 396.2 726.1C396.8 727.6 398.0 724.5 398.9 725.5C399.8 726.5 400.0 728.3 400.0 730.5C400.0 732.7 398.8 733.4 398.9 734.9C399.0 736.4 401.0 735.4 400.6 737.1C400.2 738.8 397.8 739.8 397.3 742.1C396.8 744.4 397.4 744.3 398.4 747.0C399.4 749.7 400.9 751.8 401.7 753.7C402.5 755.6 400.8 753.5 401.8 755.0C402.9 756.5 404.4 758.1 406.2 760.0C408.0 761.9 408.6 761.9 409.5 763.3C410.4 764.7 409.2 765.1 410.0 766.0C410.8 766.9 411.4 766.1 412.8 767.1C414.2 768.1 415.3 768.6 416.1 770.4C416.9 772.2 416.7 773.4 416.3 774.8C415.9 776.2 414.4 775.6 414.4 776.5C414.4 777.4 416.0 777.3 416.1 778.7C416.2 780.1 414.7 781.3 415.0 782.6C415.3 783.9 415.4 783.6 417.2 784.2C419.0 784.8 420.4 784.2 422.7 785.0C425.0 785.8 425.6 786.0 427.1 787.5C428.6 789.0 428.5 790.1 429.3 791.4C430.1 792.7 430.7 792.4 430.4 793.0C430.1 793.6 428.3 793.1 428.2 794.1C428.1 795.1 428.6 795.4 429.9 797.5C431.2 799.6 432.2 801.2 433.7 803.0C435.2 804.8 435.7 803.8 436.5 805.2C437.3 806.6 437.1 807.1 437.0 809.0C436.9 810.9 436.2 810.9 435.9 813.4C435.6 815.9 435.5 817.0 435.9 819.5C436.3 822.0 437.4 822.0 437.6 823.9C437.8 825.8 436.7 826.1 436.8 827.8C436.9 829.5 438.6 830.0 438.1 831.1C437.6 832.2 436.6 832.3 434.8 832.7C433.0 833.1 431.9 832.0 430.4 832.7C428.9 833.4 429.7 834.6 428.2 835.5C426.7 836.4 425.9 836.1 423.8 836.6C421.7 837.1 420.6 838.5 419.4 837.5C418.2 836.5 419.3 833.7 418.8 832.2C418.3 830.7 418.3 831.1 417.2 830.9C416.1 830.7 415.4 830.1 413.9 831.3C412.4 832.5 412.0 834.2 410.6 836.0C409.2 837.8 408.8 838.6 407.8 839.0C406.8 839.4 407.6 837.9 406.2 837.5C404.8 837.1 403.2 836.8 401.8 837.2C400.4 837.6 400.4 837.7 400.1 839.4C399.8 841.1 400.4 842.5 400.4 844.3C400.4 846.1 399.6 845.9 400.1 847.1C400.6 848.3 401.9 847.9 402.6 849.3C403.3 850.7 403.4 851.7 403.1 853.1C402.8 854.5 402.2 854.2 401.2 855.3C400.2 856.4 398.7 856.6 399.0 857.8C399.3 859.0 401.2 858.6 402.3 860.5C403.4 862.4 403.7 863.5 403.7 866.0C403.7 868.5 402.0 869.1 402.3 871.0C402.6 872.9 404.1 872.9 405.1 874.3C406.1 875.7 406.6 875.6 406.7 877.1C406.8 878.6 407.1 879.9 405.6 880.9C404.1 881.9 402.0 881.8 400.1 881.5C398.2 881.2 398.7 880.4 397.3 879.8C395.9 879.2 395.8 878.6 394.0 879.0C392.2 879.4 391.5 880.5 389.6 881.5C387.7 882.5 387.3 881.8 385.8 883.1C384.3 884.4 383.3 885.3 383.0 887.0C382.7 888.7 384.4 888.2 384.7 890.3C385.0 892.4 383.5 893.7 384.1 895.8C384.7 897.9 385.8 897.6 387.4 899.1C389.0 900.6 390.1 900.3 390.9 902.4C391.7 904.5 389.7 906.1 390.7 907.9C391.7 909.7 393.6 908.7 395.1 910.1C396.6 911.5 396.8 912.2 397.1 914.0C397.4 915.8 396.8 916.4 396.2 917.9C395.6 919.4 394.3 918.9 394.6 920.6C394.9 922.3 395.4 923.2 397.3 925.0C399.2 926.8 401.3 926.5 402.9 928.3C404.5 930.1 402.9 930.8 404.0 932.7C405.1 934.6 406.3 934.4 407.8 936.6C409.3 938.8 409.9 940.8 410.6 942.1"/>
<path d="M404.0 933.3C402.9 933.3 401.8 933.0 399.5 933.1C397.2 933.2 396.3 933.8 394.0 933.8C391.7 933.8 391.7 934.2 389.6 933.3C387.5 932.4 386.9 931.0 385.2 930.0C383.5 929.0 384.0 929.0 382.5 928.9C381.0 928.8 379.9 928.4 378.6 929.4C377.3 930.4 378.2 932.1 376.9 933.3C375.6 934.5 375.0 934.3 373.1 934.4C371.2 934.5 370.5 933.3 368.7 933.8C366.9 934.3 367.2 936.2 365.4 936.6C363.6 937.0 362.8 935.3 361.0 935.7C359.2 936.1 358.5 936.8 357.6 938.3C356.7 939.8 357.2 941.2 357.1 942.1"/>
<path d="M330.0 937.6L331.9 942.5"/>
<path d="M272.0 724.4C271.9 724.0 270.4 723.5 271.4 722.7C272.4 721.9 274.7 721.1 276.4 721.1C278.1 721.1 277.7 721.4 278.6 722.7C279.5 724.0 279.3 725.9 280.2 726.6C281.1 727.3 281.3 725.9 282.5 725.5C283.7 725.1 284.3 723.2 285.2 724.7C286.1 726.2 285.4 730.1 286.3 732.1C287.2 734.1 287.3 731.7 289.1 733.2C290.9 734.7 291.2 736.6 294.0 738.7C296.8 740.8 298.6 741.6 301.2 742.0C303.8 742.4 303.6 740.5 305.1 740.4C306.6 740.3 307.5 740.5 307.8 741.5C308.1 742.5 306.6 743.5 306.2 744.8C305.8 746.1 305.6 745.7 306.2 747.0C306.8 748.3 308.0 748.5 308.9 750.3C309.8 752.1 310.1 753.2 310.0 754.7C309.9 756.2 309.7 756.5 308.4 756.9C307.1 757.3 305.7 756.1 304.5 756.4C303.3 756.7 303.0 757.0 303.4 758.0C303.8 759.0 305.5 759.3 306.2 760.8C306.9 762.3 305.8 763.2 306.2 764.6C306.6 766.0 307.8 765.8 307.8 766.8C307.8 767.8 307.2 768.0 306.2 769.0C305.2 770.0 303.7 770.4 303.4 771.2C303.1 772.0 303.4 771.9 305.1 772.3C306.8 772.7 309.1 772.2 310.6 772.9C312.1 773.6 311.4 773.8 311.7 775.1C312.0 776.4 312.4 777.0 311.7 778.4C311.0 779.8 309.9 779.0 308.9 781.2C307.9 783.4 307.6 785.2 307.3 787.8C307.0 790.4 308.1 790.0 307.8 792.2C307.5 794.4 306.7 795.4 306.2 797.2C305.7 799.0 304.8 799.3 305.6 799.9C306.4 800.5 308.4 798.9 309.5 799.9C310.6 800.9 310.7 802.4 310.4 804.3C310.1 806.2 309.0 806.4 308.4 808.2C307.8 810.0 307.8 810.1 307.8 812.0C307.8 813.9 308.8 814.6 308.4 816.4C308.0 818.2 307.2 817.8 306.2 819.8C305.2 821.8 304.3 824.2 304.0 825.0C303.7 825.8 305.2 822.7 305.1 823.3C305.0 823.9 303.9 825.8 303.4 827.7C302.9 829.6 302.5 829.4 302.9 831.6C303.3 833.8 304.1 834.9 305.1 837.1C306.1 839.3 305.8 839.6 307.3 841.0C308.8 842.4 311.4 842.3 311.7 843.2C312.0 844.1 309.4 843.8 308.4 844.8C307.4 845.8 307.1 846.4 307.5 847.6C307.9 848.8 308.9 848.9 310.0 849.8C311.1 850.7 312.2 850.3 312.2 851.4C312.2 852.5 310.4 852.5 310.0 854.7C309.6 856.9 310.0 858.3 310.4 860.8C310.8 863.2 311.2 862.9 311.5 865.2C311.8 867.5 311.4 868.6 311.7 870.7C312.0 872.8 313.1 872.6 312.8 874.0C312.5 875.4 311.3 875.5 310.6 876.8C309.9 878.1 309.6 878.2 310.0 879.5C310.4 880.8 311.9 880.7 312.2 882.3C312.5 883.9 310.8 884.7 311.1 886.2C311.4 887.7 312.1 887.5 313.3 888.9C314.5 890.3 315.4 890.5 316.1 892.2C316.8 893.9 316.6 894.2 316.1 896.1C315.6 898.0 313.8 899.0 314.1 900.5C314.4 902.0 317.0 901.5 317.2 902.7C317.4 903.9 316.2 903.8 315.0 905.5C313.8 907.2 313.1 907.8 312.2 909.9C311.3 912.0 310.2 913.0 311.1 914.3C312.0 915.6 314.6 914.4 316.1 915.4C317.6 916.4 316.9 917.0 317.7 918.7C318.5 920.4 318.8 920.4 319.4 922.5C320.0 924.6 319.0 925.6 320.3 927.5C321.6 929.4 323.1 929.0 324.9 930.8C326.7 932.6 326.7 933.1 328.2 935.2C329.7 937.3 330.5 937.9 331.5 939.6C332.5 941.3 332.2 941.7 332.4 942.4"/>
<path d="M272.0 724.4C271.6 726.5 271.0 729.6 270.3 733.2C269.6 736.8 269.9 738.6 268.9 739.8C267.9 741.0 267.4 738.2 265.9 738.2C264.4 738.2 264.1 738.0 262.6 739.8C261.1 741.6 260.8 744.1 259.3 745.9C257.8 747.7 256.8 745.9 256.0 747.6C255.2 749.3 257.2 750.8 256.0 753.1C254.8 755.4 252.5 755.2 251.0 757.5C249.5 759.8 250.7 760.3 249.4 763.1C248.1 765.9 248.0 766.6 245.5 769.7C243.0 772.8 240.9 773.6 238.8 776.4C236.7 779.2 237.9 779.7 236.6 781.9C235.3 784.1 234.8 785.1 233.3 785.8C231.8 786.5 232.1 784.6 230.0 784.7C227.9 784.8 226.5 784.9 224.4 786.3C222.3 787.7 222.8 789.4 221.1 790.8C219.4 792.2 219.3 792.8 217.2 792.4C215.1 792.0 214.2 789.1 212.3 789.1C210.4 789.1 210.7 791.1 208.9 792.4C207.1 793.7 206.3 793.3 204.5 794.6C202.7 795.9 203.8 797.0 201.2 798.0C198.6 799.0 196.0 798.2 193.4 799.1C190.8 800.0 191.6 800.1 190.1 801.8C188.6 803.5 188.9 805.5 186.8 806.3C184.7 807.1 182.6 805.6 181.3 805.4"/>
<path d="M173.7 829.4C172.9 829.8 171.2 829.6 170.4 831.0C169.6 832.4 170.6 833.3 170.1 835.4C169.6 837.5 168.8 838.0 168.2 839.8C167.6 841.6 167.0 841.5 167.7 843.2C168.4 844.9 169.5 845.6 171.0 847.0C172.5 848.4 172.2 848.9 174.3 849.2C176.4 849.5 176.5 848.1 179.8 848.1C183.1 848.1 186.2 847.9 188.6 849.2C191.0 850.5 189.3 851.4 190.3 853.6C191.3 855.8 191.5 856.5 193.0 858.6C194.5 860.7 195.9 859.9 196.9 862.5C197.9 865.1 196.5 867.5 197.2 869.6C197.9 871.7 198.2 870.8 199.7 871.3C201.2 871.8 202.0 870.9 203.5 871.8C205.0 872.7 205.6 873.8 206.3 875.1C207.0 876.4 205.3 876.1 206.3 877.3C207.3 878.5 208.6 879.6 210.7 880.1C212.8 880.6 213.2 879.8 215.1 879.5C217.0 879.2 217.7 879.4 218.9 879.0C220.1 878.6 219.7 877.2 220.1 877.9C220.5 878.6 219.2 880.5 220.6 881.8C222.0 883.1 224.6 882.5 226.1 883.4C227.6 884.3 226.3 885.2 227.2 885.6C228.1 886.0 228.6 884.3 230.0 885.1C231.4 885.9 231.6 886.6 233.3 888.9C235.0 891.2 236.1 891.5 237.1 895.0C238.1 898.5 237.0 902.0 237.7 903.8C238.4 905.6 238.7 902.7 240.0 902.7C241.3 902.7 241.2 902.9 243.3 903.8C245.4 904.7 246.7 905.4 248.8 906.6C250.9 907.8 250.9 907.3 252.1 908.8C253.3 910.3 252.8 911.3 253.8 913.2C254.8 915.1 256.8 915.6 256.5 917.0C256.2 918.4 253.0 917.6 252.7 919.2C252.4 920.8 254.3 921.8 255.4 923.7C256.5 925.6 257.9 925.7 257.6 927.5C257.3 929.3 255.8 930.0 254.3 931.4C252.8 932.8 251.9 932.2 251.0 933.6C250.1 935.0 251.3 935.3 250.5 937.4C249.7 939.5 248.4 941.2 247.7 942.4"/>
<path d="M137.4 893.3C137.5 892.5 137.3 891.8 137.9 890.0C138.5 888.2 139.1 887.0 140.1 885.6C141.1 884.2 140.9 884.5 142.3 884.0C143.7 883.5 144.1 884.1 146.2 883.4C148.3 882.7 149.2 882.4 151.1 881.2C153.0 880.0 153.1 879.7 154.4 878.4C155.7 877.1 155.3 876.0 156.6 875.7C157.9 875.4 157.9 876.7 160.0 877.3C162.1 877.9 163.1 878.4 165.5 878.4C167.9 878.4 168.6 876.8 170.4 877.3C172.2 877.8 171.7 879.2 173.2 880.6C174.7 882.0 175.6 882.0 177.0 883.4C178.4 884.8 178.9 885.2 179.3 886.7C179.7 888.2 178.7 888.7 178.7 890.0C178.7 891.3 179.6 890.8 179.3 892.2C179.0 893.6 178.5 894.4 177.6 896.1C176.7 897.8 176.3 897.3 175.4 899.4C174.5 901.5 174.6 903.4 173.7 904.9C172.8 906.4 171.9 905.0 171.5 906.0C171.1 907.0 172.6 907.6 172.1 909.3C171.6 911.0 169.3 911.4 169.3 913.2C169.3 915.0 171.8 915.3 172.1 917.0C172.4 918.7 170.7 918.2 170.4 920.3C170.1 922.4 171.4 923.8 171.0 925.9C170.6 928.0 169.5 927.4 168.8 929.2C168.1 931.0 168.9 931.8 168.2 933.6C167.5 935.4 166.6 935.5 166.0 936.9C165.4 938.3 166.1 938.3 165.5 939.6C164.9 940.9 163.8 941.7 163.3 942.4"/>
<path d="M524.8 642.4C526.0 642.4 527.9 641.3 529.8 642.4C531.7 643.5 532.0 644.8 533.1 647.3C534.2 649.8 534.1 649.9 534.7 653.2C535.3 656.5 532.9 657.0 535.6 661.5C538.3 666.0 541.6 668.8 546.4 672.3C551.2 675.8 553.2 674.9 556.3 676.4C559.4 677.9 557.7 677.7 559.7 678.9C561.7 680.1 562.0 678.9 564.7 681.4C567.4 683.9 568.0 686.8 571.3 689.7C574.6 692.6 576.9 688.9 578.8 693.9C580.7 698.9 577.9 705.5 579.3 711.3C580.7 717.1 583.0 715.3 584.6 718.8C586.2 722.3 585.3 722.8 586.3 726.3C587.3 729.8 587.7 732.8 588.8 733.8C589.9 734.8 589.7 730.6 591.2 730.4C592.7 730.2 594.0 732.7 595.4 732.9C596.8 733.1 596.3 730.5 597.1 731.3C597.9 732.1 597.0 734.4 598.7 736.3C600.4 738.2 601.6 737.5 604.5 739.6C607.4 741.7 607.6 741.9 611.2 745.4C614.8 748.9 616.9 751.6 620.0 754.5C623.1 757.4 622.8 755.2 624.7 757.7C626.6 760.2 626.6 763.4 628.2 765.4C629.8 767.4 629.2 765.4 631.5 766.4C633.8 767.4 635.1 766.7 638.2 769.7C641.4 772.7 640.9 776.3 645.0 779.3C649.1 782.3 652.0 780.9 655.6 782.4C659.2 783.9 658.6 784.8 660.4 785.7C662.2 786.6 661.0 785.4 663.3 786.3C665.6 787.2 667.9 787.9 670.1 789.6C672.3 791.3 670.4 790.5 672.6 793.4C674.8 796.3 676.5 799.8 679.7 802.1C682.9 804.4 683.1 801.8 686.5 803.1C689.9 804.4 691.5 805.3 694.2 807.5C696.9 809.7 696.3 810.5 698.1 812.7C699.9 814.9 701.4 812.8 701.9 817.0C702.4 821.2 702.4 826.2 700.4 830.9C698.4 835.6 695.6 833.8 693.2 837.3C690.8 840.8 690.0 842.4 690.0 846.0C690.0 849.6 692.8 850.0 693.2 852.7C693.6 855.4 691.4 854.8 691.9 857.5C692.4 860.2 694.2 860.9 695.2 864.3C696.2 867.7 695.4 868.5 696.1 872.0C696.8 875.5 698.5 875.8 698.1 879.2C697.7 882.6 694.4 881.6 694.2 886.5C694.0 891.4 695.1 896.2 697.1 900.0C699.1 903.8 701.3 901.0 702.9 902.9C704.5 904.8 703.0 906.5 703.9 908.1C704.8 909.7 703.8 910.0 706.7 909.6C709.6 909.2 712.1 905.6 716.4 906.2C720.7 906.8 722.5 909.6 725.1 912.0C727.7 914.4 724.7 915.1 727.4 916.4C730.1 917.7 732.5 916.3 736.7 917.4C740.9 918.5 742.1 919.2 745.3 921.2C748.4 923.2 747.5 924.4 750.2 926.0C752.9 927.6 755.1 927.0 756.9 928.0C758.7 929.0 756.1 929.9 757.9 930.5C759.7 931.1 761.9 930.9 764.6 930.5C767.3 930.1 767.0 929.3 769.5 929.0C772.0 928.7 773.5 928.7 775.3 929.3C777.1 929.9 775.4 931.2 777.2 931.5C779.0 931.8 780.5 930.2 783.0 930.5C785.5 930.8 785.8 930.0 787.8 932.8C789.8 935.6 790.8 940.2 791.7 942.5"/>
<path d="M671.0 790.5C672.4 789.5 676.6 789.0 676.8 786.1C677.0 783.2 673.1 781.0 672.0 778.0C670.9 775.0 673.8 779.5 672.0 773.2C670.2 766.9 666.2 757.5 664.3 751.0C662.4 744.5 663.5 748.1 663.7 745.2C663.9 742.3 663.6 740.9 665.3 738.4C667.0 735.9 667.9 736.0 671.0 734.6C674.1 733.2 675.2 734.5 678.8 732.2C682.4 729.9 682.7 728.2 686.5 724.9C690.3 721.6 691.4 722.7 695.2 718.2C699.0 713.7 700.0 708.2 702.9 705.6C705.8 703.0 704.8 706.7 707.7 707.2C710.6 707.7 712.2 708.0 715.4 707.9C718.5 707.8 718.7 707.6 721.2 706.6C723.7 705.6 723.3 704.2 726.0 703.7C728.7 703.2 728.7 704.8 732.8 704.6C736.9 704.4 739.6 701.7 743.4 702.7C747.2 703.8 746.7 707.1 749.2 709.1C751.7 711.1 751.5 709.5 754.0 711.4C756.5 713.3 757.8 714.3 759.8 717.2C761.8 720.1 760.0 721.9 762.7 723.9C765.4 725.9 767.1 722.7 771.4 725.9C775.7 729.1 774.9 732.6 781.0 737.5C787.1 742.4 791.8 743.1 797.4 747.1C803.0 751.1 801.1 749.2 805.2 754.8C809.3 760.4 809.9 765.3 814.8 771.2C819.7 777.1 822.3 777.4 826.4 779.9C830.5 782.4 830.8 781.4 832.2 781.8"/>
<path d="M846.7 784.4C848.3 784.3 849.6 784.8 853.4 783.8C857.2 782.8 859.7 781.0 863.1 779.9C866.5 778.8 865.8 779.5 868.0 779.2C870.2 778.9 871.2 779.6 872.5 778.6C873.8 777.6 871.5 776.7 873.5 775.1C875.5 773.5 878.1 772.4 881.2 771.6C884.4 770.8 883.9 773.0 887.0 771.6C890.1 770.2 890.4 765.9 894.7 765.8C899.0 765.7 902.4 769.2 905.3 771.2C908.2 773.2 905.3 774.0 907.3 774.5C909.3 775.0 911.3 774.2 914.0 773.2C916.7 772.2 917.6 773.0 918.9 770.3C920.2 767.6 918.7 764.7 919.4 761.6C920.1 758.5 919.0 758.3 921.8 757.1C924.6 755.9 927.8 757.4 931.4 756.4C935.0 755.4 932.7 754.3 937.2 752.9C941.7 751.5 944.4 752.2 950.7 750.4C957.0 748.6 957.5 748.1 964.2 745.2C970.9 742.3 972.6 741.6 979.6 738.0C986.6 734.4 989.1 732.1 994.1 729.7C999.1 727.3 996.6 729.8 1000.9 727.8C1005.2 725.8 1007.9 723.2 1012.4 721.0C1016.9 718.8 1016.6 719.5 1020.2 718.2C1023.8 716.9 1024.3 716.1 1027.9 715.3C1031.5 714.5 1032.0 714.5 1035.6 714.9C1039.2 715.3 1040.6 716.9 1043.3 717.2C1046.0 717.5 1044.9 716.0 1047.2 716.2C1049.5 716.4 1049.0 718.2 1053.0 718.2C1057.0 718.2 1059.3 717.1 1064.5 716.2C1069.7 715.3 1072.0 716.1 1075.2 714.3C1078.4 712.5 1076.1 710.1 1078.1 708.5C1080.1 706.9 1080.6 709.0 1083.8 707.5C1087.0 706.0 1088.4 703.0 1091.6 702.1C1094.8 701.2 1093.9 703.1 1097.4 703.7C1100.9 704.3 1103.7 705.7 1106.6 704.6C1109.5 703.5 1108.5 701.4 1109.9 698.9C1111.3 696.4 1109.9 696.5 1112.8 694.0C1115.7 691.5 1119.2 690.8 1122.4 688.2C1125.6 685.6 1123.6 684.7 1126.3 682.8C1129.0 680.9 1130.8 680.6 1134.0 680.1C1137.2 679.6 1137.3 680.7 1140.0 680.5C1142.7 680.3 1144.0 680.6 1145.7 679.3C1147.4 678.0 1146.0 676.6 1147.4 674.9C1148.8 673.2 1149.3 672.4 1151.8 672.0C1154.2 671.6 1152.8 670.5 1157.9 673.2C1163.0 675.9 1166.6 679.1 1173.5 683.6C1180.4 688.1 1180.8 688.8 1187.4 692.3C1194.0 695.8 1198.4 697.3 1201.7 698.8"/>
<path d="M816.2 787.6C815.9 789.0 816.5 790.8 814.8 793.4C813.1 796.0 811.0 795.3 809.0 798.6C807.0 801.9 808.3 804.7 806.1 807.5C803.9 810.3 802.8 809.7 799.4 810.8C796.0 811.9 794.7 812.1 791.7 812.1C788.7 812.1 788.9 809.8 786.4 810.8C783.9 811.8 782.5 814.7 781.0 816.6C779.5 818.5 781.4 817.9 780.1 818.9C778.8 819.9 776.7 819.1 775.3 820.9C773.9 822.7 774.3 824.2 774.3 826.7C774.3 829.2 775.5 828.6 775.3 831.5C775.1 834.4 774.2 837.0 773.3 839.2C772.4 841.4 772.1 837.3 771.4 841.1C770.7 844.9 771.2 849.3 770.4 855.6C769.6 861.9 769.5 864.6 767.9 868.2C766.3 871.8 764.5 867.7 763.7 871.1C762.9 874.5 763.8 879.5 764.3 882.6C764.8 885.8 766.4 881.9 766.0 884.6C765.6 887.3 764.4 886.5 762.7 894.2C761.0 901.9 759.1 911.1 758.9 917.4C758.7 923.7 762.3 918.7 761.8 921.2C761.3 923.7 758.0 926.4 756.9 928.0"/>
<path d="M638.2 928.6C639.6 929.8 641.5 931.7 644.0 933.8C646.5 935.9 647.0 935.6 648.9 937.6C650.8 939.6 651.4 941.4 652.1 942.5"/>
<path d="M1014.4 722.0C1013.0 724.0 1011.8 727.0 1008.6 730.7C1005.5 734.4 1003.8 734.2 1000.9 738.0C998.0 741.8 999.4 741.8 996.0 747.1C992.6 752.4 989.1 756.1 986.4 760.6C983.7 765.1 987.0 763.0 984.5 766.4C982.0 769.8 978.0 771.9 975.8 775.1C973.6 778.3 975.5 777.4 975.1 780.0C974.7 782.6 974.0 783.3 973.9 786.2C973.8 789.1 974.9 790.1 974.5 792.4C974.1 794.7 974.2 794.4 972.0 796.1C969.8 797.8 967.2 797.9 965.2 799.8C963.2 801.7 964.9 801.9 963.3 804.2C961.7 806.5 959.7 807.6 958.4 809.8C957.1 812.0 957.8 812.1 957.8 813.5C957.8 814.9 958.9 815.0 958.6 816.0C958.3 817.0 956.9 815.9 956.5 817.8C956.1 819.7 958.3 820.2 956.9 824.0C955.5 827.8 952.1 830.4 950.3 834.0C948.5 837.6 950.1 838.0 949.1 839.5C948.1 841.0 947.4 839.8 946.0 840.5C944.6 841.2 944.9 842.5 942.9 842.6C940.9 842.7 939.3 840.1 937.3 840.8C935.3 841.5 935.4 843.2 934.2 845.7C933.0 848.2 933.7 849.4 932.3 851.3C930.9 853.2 929.6 852.4 928.0 853.8C926.4 855.2 926.4 855.5 925.5 857.5C924.6 859.5 925.5 861.2 924.3 862.5C923.1 863.8 921.4 862.8 920.5 862.9"/>
<path d="M931.3 878.6C932.1 878.0 932.2 876.5 934.8 876.1C937.4 875.7 940.0 877.8 942.3 876.8C944.6 875.8 942.2 873.0 944.7 871.8C947.2 870.6 949.3 871.7 952.8 871.6C956.3 871.5 956.8 871.9 959.6 871.2C962.4 870.5 961.3 869.6 964.6 868.7C967.9 867.8 970.7 868.4 973.9 867.2C977.1 866.0 976.5 866.0 978.2 863.7C979.9 861.4 980.0 860.2 981.3 857.5C982.6 854.8 981.9 854.0 983.8 852.0C985.7 850.0 987.4 849.8 989.4 848.8C991.4 847.8 990.2 849.0 992.5 847.6C994.8 846.2 997.3 845.6 999.3 842.6C1001.3 839.6 1000.3 837.9 1001.2 834.6C1002.1 831.3 1000.2 832.7 1003.0 828.4C1005.8 824.1 1008.7 820.3 1013.0 816.0C1017.3 811.7 1017.8 811.5 1021.6 809.8C1025.4 808.0 1025.9 808.6 1029.1 808.5C1032.3 808.4 1031.7 809.7 1035.3 809.2C1038.9 808.7 1041.1 806.6 1044.6 806.4C1048.1 806.2 1047.4 806.4 1050.2 808.3C1053.0 810.2 1054.7 811.6 1056.4 814.7C1058.1 817.8 1057.7 818.4 1057.6 821.6C1057.5 824.8 1056.2 825.1 1056.1 828.4C1056.0 831.7 1057.2 833.1 1057.0 835.8C1056.8 838.5 1056.1 838.0 1055.4 840.0C1054.7 842.0 1054.1 842.6 1053.8 844.4C1053.5 846.2 1053.0 846.4 1054.3 847.7C1055.6 849.0 1057.4 848.7 1059.3 850.1C1061.2 851.5 1061.3 852.8 1062.6 853.8C1063.9 854.8 1063.3 854.6 1064.8 854.3C1066.3 854.0 1067.7 852.7 1069.2 852.7C1070.7 852.7 1070.6 852.6 1071.1 854.3C1071.6 856.0 1070.7 858.0 1071.4 859.8C1072.1 861.6 1072.7 861.3 1074.2 862.1C1075.7 862.9 1076.4 862.8 1078.0 863.2C1079.6 863.6 1080.1 861.4 1081.0 863.7C1081.9 866.0 1081.6 869.1 1081.9 873.1C1082.2 877.1 1081.8 878.5 1082.5 880.8C1083.2 883.1 1084.7 880.5 1085.0 882.8C1085.3 885.1 1084.2 888.5 1083.9 890.7C1083.6 892.9 1083.7 892.0 1083.6 892.4"/>
<path d="M985.4 942.5C987.0 940.5 988.1 936.1 992.2 933.8C996.3 931.5 999.2 932.8 1002.8 932.8C1006.4 932.8 1004.5 934.0 1007.6 933.8C1010.8 933.6 1012.6 933.4 1016.3 931.8C1020.0 930.2 1020.9 930.8 1023.6 927.0C1026.3 923.2 1025.3 919.7 1027.9 915.4C1030.5 911.1 1031.8 910.6 1034.6 908.7C1037.4 906.8 1038.0 907.9 1040.0 907.3C1042.0 906.7 1041.9 907.1 1043.3 906.2C1044.7 905.3 1044.3 905.0 1046.1 903.4C1047.9 901.8 1047.8 901.4 1051.0 899.5C1054.2 897.6 1055.9 897.1 1059.8 895.1C1063.7 893.1 1064.5 892.0 1067.6 890.9C1070.7 889.8 1070.5 890.3 1073.1 890.5C1075.7 890.7 1076.0 891.2 1078.6 891.6C1081.2 892.0 1082.0 892.6 1084.1 892.4C1086.2 892.2 1085.6 891.7 1087.4 890.9C1089.2 890.1 1089.6 889.3 1091.8 889.1C1094.0 888.9 1094.5 888.3 1096.8 890.2C1099.1 892.1 1099.0 894.0 1101.8 897.3C1104.6 900.6 1106.3 903.1 1108.9 904.5C1111.5 905.9 1110.9 904.1 1112.8 903.1C1114.7 902.1 1114.9 901.6 1117.2 900.1C1119.5 898.6 1120.4 896.9 1122.7 896.5C1125.0 896.1 1124.8 897.4 1127.1 898.4C1129.4 899.4 1130.3 899.4 1132.6 900.6C1134.9 901.8 1135.1 902.0 1137.0 903.4C1138.9 904.8 1139.0 906.1 1140.9 906.7C1142.8 907.3 1143.1 906.2 1145.3 905.9C1147.5 905.6 1148.1 905.9 1150.3 905.3C1152.5 904.7 1152.5 904.9 1154.7 903.4C1156.9 901.9 1157.9 899.4 1159.6 899.0C1161.3 898.6 1160.8 900.3 1161.8 901.8C1162.8 903.3 1162.3 903.5 1164.1 905.6C1165.9 907.7 1167.7 907.6 1169.6 910.6C1171.5 913.6 1170.5 916.0 1172.3 918.3C1174.1 920.6 1175.6 919.1 1177.3 920.3C1179.0 921.5 1177.6 921.6 1179.5 923.3C1181.4 925.0 1184.2 925.5 1185.6 927.7C1187.0 929.9 1186.1 930.4 1185.6 932.6C1185.1 934.8 1184.3 934.9 1183.3 937.0C1182.2 939.1 1181.7 940.0 1181.1 941.4C1180.5 942.8 1180.7 942.5 1180.6 942.8"/>
<path d="M1212.6 709.4C1213.1 710.0 1214.4 710.4 1214.8 712.1C1215.2 713.8 1214.2 714.6 1214.2 716.5C1214.2 718.4 1214.0 719.4 1214.8 720.4C1215.6 721.4 1216.2 720.3 1217.5 721.0C1218.8 721.7 1219.0 722.7 1220.3 723.2C1221.6 723.7 1222.2 722.6 1223.0 723.2C1223.8 723.8 1222.8 725.0 1223.6 725.9C1224.4 726.8 1225.1 726.7 1226.4 727.0C1227.7 727.3 1228.2 726.0 1229.1 727.0C1230.0 728.0 1229.8 729.3 1230.2 731.4C1230.6 733.5 1230.3 734.0 1230.8 735.8C1231.3 737.6 1231.8 737.2 1232.4 739.1C1233.0 741.0 1233.2 741.1 1233.3 744.1C1233.4 747.1 1232.6 749.5 1233.0 751.8C1233.4 754.1 1233.8 753.2 1235.2 754.0C1236.6 754.8 1236.7 754.4 1239.0 755.1C1241.3 755.8 1243.2 755.5 1245.1 756.8C1247.0 758.1 1246.3 759.1 1247.3 760.6C1248.3 762.1 1248.2 762.6 1249.5 763.4C1250.8 764.2 1251.8 763.1 1252.8 764.0C1253.8 764.9 1253.2 765.9 1253.9 767.3C1254.6 768.7 1255.5 768.6 1255.6 770.0C1255.7 771.4 1254.5 771.9 1254.5 773.3C1254.5 774.7 1255.7 774.8 1255.6 776.1C1255.5 777.4 1254.4 777.3 1253.9 778.8C1253.4 780.3 1253.0 780.5 1253.4 782.7C1253.8 784.9 1254.6 785.6 1255.6 788.2C1256.6 790.8 1256.8 791.2 1257.8 793.7C1258.8 796.2 1259.8 796.8 1260.0 798.7C1260.2 800.6 1258.6 800.3 1258.7 802.0C1258.8 803.7 1259.9 804.0 1260.5 805.9C1261.1 807.8 1260.1 808.8 1261.1 810.3C1262.1 811.8 1263.6 811.1 1264.9 812.5C1266.2 813.9 1265.4 815.0 1266.6 816.3C1267.8 817.6 1268.5 817.6 1269.9 818.0C1271.3 818.4 1271.0 817.0 1272.7 818.0C1274.4 819.0 1274.9 821.1 1277.1 822.4C1279.3 823.7 1279.8 823.0 1282.0 823.5C1284.2 824.0 1284.6 824.4 1286.4 824.4C1288.2 824.4 1288.2 823.3 1289.8 823.5C1291.4 823.7 1291.6 824.8 1293.1 825.2C1294.6 825.6 1294.6 824.7 1296.4 825.2C1298.2 825.7 1298.7 826.4 1300.8 827.4C1302.9 828.4 1303.2 828.4 1305.2 829.6C1307.2 830.8 1307.7 831.2 1309.3 832.7C1310.9 834.2 1309.5 834.7 1311.9 836.2C1314.3 837.7 1316.5 838.2 1319.7 839.2C1322.9 840.2 1323.3 840.9 1325.8 840.6C1328.2 840.3 1326.4 839.5 1330.2 838.0C1334.0 836.5 1339.2 835.1 1342.0 834.2"/>
<path d="M1239.6 756.2C1240.1 757.1 1241.5 758.2 1241.8 760.1C1242.1 762.0 1240.4 762.6 1240.7 764.5C1241.0 766.4 1242.1 766.7 1242.9 768.4C1243.7 770.1 1244.3 770.2 1244.0 771.7C1243.7 773.2 1242.2 773.2 1241.8 775.0C1241.4 776.8 1241.5 777.1 1242.3 779.4C1243.1 781.7 1245.1 782.8 1245.1 784.9C1245.1 787.0 1243.3 786.7 1242.3 788.2C1241.3 789.7 1241.3 789.6 1241.0 791.5C1240.7 793.4 1241.5 794.6 1241.2 796.5C1240.9 798.4 1240.1 797.9 1239.6 799.8C1239.1 801.7 1238.9 802.1 1239.0 804.8C1239.1 807.5 1239.2 808.5 1239.9 811.4C1240.6 814.3 1241.4 815.0 1241.8 817.4C1242.2 819.8 1241.4 819.6 1241.8 821.8C1242.2 824.0 1242.6 824.9 1243.4 826.8C1244.2 828.7 1244.7 828.9 1245.1 830.0C1245.5 831.1 1245.1 829.9 1245.1 831.6C1245.1 833.3 1244.2 835.3 1245.1 837.1C1246.0 838.9 1247.3 837.5 1249.0 839.3C1250.7 841.1 1251.3 842.7 1252.3 844.8C1253.3 846.9 1251.3 845.9 1253.4 848.2C1255.5 850.5 1258.3 852.2 1261.1 854.8C1263.9 857.4 1262.7 857.1 1265.5 859.2C1268.3 861.3 1270.6 861.5 1273.2 863.6C1275.8 865.7 1274.7 865.9 1276.5 868.0C1278.3 870.1 1279.9 870.1 1280.9 872.4C1281.9 874.7 1279.9 876.4 1280.9 877.9C1281.9 879.4 1283.0 877.7 1285.3 879.0C1287.6 880.3 1288.6 881.7 1290.9 883.4C1293.2 885.1 1293.0 885.0 1295.3 886.2C1297.6 887.4 1298.9 887.0 1300.8 888.4C1302.7 889.8 1302.4 889.6 1303.5 892.3C1304.6 895.0 1303.8 896.4 1305.7 900.0C1307.6 903.6 1309.6 904.1 1311.8 907.7C1314.0 911.3 1313.8 913.1 1315.1 915.4C1316.4 917.7 1316.2 916.4 1317.4 917.4C1318.6 918.4 1319.3 918.9 1320.3 919.9C1321.3 920.9 1321.4 920.6 1321.7 921.5C1322.0 922.4 1322.0 922.4 1321.5 923.6C1321.0 924.8 1320.5 925.0 1319.4 926.5C1318.4 928.0 1318.4 929.1 1317.0 930.2C1315.6 931.3 1315.0 930.8 1313.6 931.2C1312.2 931.6 1312.1 931.3 1311.2 932.1C1310.3 932.9 1311.1 934.0 1309.9 934.7C1308.7 935.4 1307.9 934.9 1306.2 935.2C1304.5 935.5 1304.5 935.4 1302.5 936.0C1300.5 936.6 1300.6 936.2 1297.7 937.8C1294.8 939.4 1291.8 941.6 1290.0 942.8"/>
<path d="M1195.5 737.5C1195.5 738.4 1194.1 740.4 1195.5 741.4C1196.9 742.4 1198.4 741.8 1201.5 741.9C1204.6 742.0 1206.2 741.5 1208.7 741.9C1211.2 742.3 1210.8 742.4 1212.0 743.6C1213.2 744.8 1212.4 745.2 1213.7 746.9C1215.0 748.6 1216.0 749.8 1217.5 750.7C1219.0 751.6 1219.0 750.0 1220.3 750.7C1221.6 751.4 1220.9 752.3 1223.0 753.5C1225.1 754.7 1226.6 754.7 1229.1 755.7C1231.5 756.7 1231.6 757.5 1233.5 757.9C1235.4 758.3 1236.0 757.7 1237.4 757.3C1238.8 756.9 1239.1 756.5 1239.6 756.2"/>
<path d="M555.6 789.9C554.7 789.7 554.1 788.9 551.8 789.0C549.5 789.1 548.5 789.8 545.7 790.5C542.9 791.2 541.4 792.2 539.6 791.9C537.8 791.6 539.1 790.2 538.0 789.4C536.9 788.6 536.4 788.6 534.7 788.3C533.0 787.9 532.3 787.3 530.8 787.9C529.3 788.5 529.2 789.5 528.1 791.0C527.0 792.5 526.3 792.9 525.9 794.3C525.5 795.7 527.1 796.6 526.4 797.1C525.7 797.6 524.1 796.0 523.1 796.5C522.1 797.0 522.9 798.9 522.0 799.3C521.1 799.7 520.6 798.6 519.2 798.2C517.8 797.8 516.9 797.2 515.9 797.6C514.9 798.0 514.8 798.5 514.8 799.8C514.8 801.1 516.3 802.0 515.9 803.2C515.5 804.4 514.3 804.2 513.2 804.8C512.1 805.4 510.9 805.1 511.0 805.9C511.1 806.7 512.9 806.9 513.7 808.1C514.5 809.3 514.7 810.5 514.3 810.9C513.9 811.3 513.1 810.2 512.1 809.8C511.1 809.4 511.1 809.5 509.9 809.2C508.7 808.9 508.1 808.3 507.1 808.7C506.1 809.1 506.0 809.6 505.5 810.9C505.0 812.2 505.8 813.2 504.9 814.2C504.0 815.2 502.9 814.5 501.6 815.3C500.3 816.1 499.3 817.0 499.4 817.5C499.5 818.0 501.7 816.7 502.2 817.5C502.7 818.3 502.8 819.4 501.6 820.8C500.4 822.2 498.7 822.6 497.2 823.6C495.7 824.6 495.3 823.9 495.0 825.2C494.7 826.5 496.5 827.7 496.1 829.1C495.7 830.5 494.6 830.5 493.3 831.3C492.0 832.1 491.4 831.5 490.6 832.4C489.8 833.3 491.0 834.6 490.0 835.1C489.0 835.6 487.6 834.1 486.2 834.6C484.8 835.1 484.9 835.9 484.0 837.3C483.1 838.7 482.4 839.3 482.3 840.6C482.2 841.9 483.5 842.1 483.4 842.9C483.3 843.7 481.4 843.4 481.8 844.0C482.2 844.6 485.0 844.6 485.1 845.6C485.2 846.6 483.5 848.0 482.3 848.4C481.1 848.8 481.3 847.2 480.1 847.3C478.9 847.4 478.5 848.3 477.3 848.9C476.1 849.5 475.9 849.1 475.1 850.0C474.3 850.9 474.1 851.6 474.0 852.8C473.9 854.0 474.2 853.5 474.5 855.0C474.8 856.5 474.6 857.7 475.1 859.4C475.6 861.1 477.0 861.0 476.7 862.2C476.4 863.4 474.4 863.1 474.0 864.4C473.6 865.7 475.2 866.0 475.1 867.7C475.0 869.4 473.7 870.0 473.4 871.5C473.1 873.0 474.3 872.6 474.0 874.3C473.7 876.0 472.3 876.9 472.3 878.7C472.3 880.5 474.4 881.3 474.0 882.0C473.6 882.7 471.9 881.2 470.7 881.5C469.5 881.8 468.7 882.1 469.0 883.1C469.3 884.1 470.4 885.1 471.8 885.9C473.2 886.7 476.0 886.0 475.1 886.4C474.2 886.8 469.3 886.5 467.9 887.5C466.5 888.5 468.3 890.0 469.0 890.8C469.7 891.6 470.8 890.3 470.7 890.8C470.6 891.3 469.3 891.6 468.5 893.0C467.7 894.4 467.3 895.2 467.4 896.9C467.5 898.6 469.5 898.9 469.0 900.2C468.5 901.5 466.0 900.9 465.2 902.4C464.4 903.9 465.6 904.5 465.7 906.8C465.8 909.1 464.7 910.9 465.7 912.3C466.7 913.7 468.8 912.0 470.1 912.9C471.4 913.8 472.0 915.0 471.2 916.2C470.4 917.4 468.1 916.7 466.8 917.9C465.5 919.1 465.4 919.4 465.7 921.2C466.0 923.0 468.0 924.2 467.9 925.6C467.8 927.0 465.7 925.9 465.2 927.2C464.7 928.5 466.0 929.4 465.7 931.1C465.4 932.8 464.4 932.9 464.1 934.4C463.8 935.9 465.3 936.3 464.6 937.7C463.9 939.1 462.3 939.5 461.3 940.5C460.3 941.5 460.6 941.7 460.4 942.1"/>
<path d="M555.6 789.9C555.5 790.7 555.9 791.3 555.1 793.2C554.3 795.1 553.3 796.3 552.3 798.2C551.3 800.1 552.0 800.2 550.7 801.5C549.4 802.8 547.6 802.4 546.8 803.7C546.0 805.0 547.7 805.2 547.4 807.0C547.1 808.8 546.9 809.2 545.7 811.4C544.5 813.6 544.3 814.5 542.4 816.4C540.5 818.3 538.3 818.0 537.4 819.7C536.5 821.4 538.9 821.8 538.5 823.6C538.1 825.4 537.2 825.9 535.8 827.4C534.4 828.9 533.3 829.5 532.5 830.2"/>
<path d="M588.6 858.5C587.9 859.4 587.7 857.2 585.7 862.4C583.7 867.6 582.6 871.0 579.9 880.7C577.2 890.4 575.3 896.2 574.1 903.9C572.9 911.6 575.5 909.9 574.7 913.5C573.9 917.1 571.4 917.0 570.8 919.3C570.2 921.6 572.3 920.1 572.2 923.2C572.1 926.4 570.5 928.3 570.3 932.8C570.1 937.3 571.0 940.2 571.2 942.5"/>
</g>
</g>
<rect x="96.0" y="135.0" width="1246.0" height="807.9" fill="none" stroke="#000" stroke-width="2.0"/>
<text transform="translate(121.13 969.80) scale(0.9827 1)" font-size="22.8" stroke="#000" stroke-width="0.3">6°W</text>
<text transform="translate(277.43 969.80) scale(0.9827 1)" font-size="22.8" stroke="#000" stroke-width="0.3">3°W</text>
<text transform="translate(443.90 969.80) scale(1.0259 1)" font-size="22.8" stroke="#000" stroke-width="0.3">0°</text>
<text transform="translate(594.30 969.80) scale(0.9606 1)" font-size="22.8" stroke="#000" stroke-width="0.3">3°E</text>
<text transform="translate(751.00 969.80) scale(0.9606 1)" font-size="22.8" stroke="#000" stroke-width="0.3">6°E</text>
<text transform="translate(907.30 969.80) scale(0.9606 1)" font-size="22.8" stroke="#000" stroke-width="0.3">9°E</text>
<text transform="translate(1056.49 969.80) scale(0.9980 1)" font-size="22.8" stroke="#000" stroke-width="0.3">12°E</text>
<text transform="translate(1212.69 969.80) scale(0.9980 1)" font-size="22.8" stroke="#000" stroke-width="0.3">15°E</text>
<text transform="translate(33.10 245.30) scale(1.0160 1)" font-size="22.8" stroke="#000" stroke-width="0.3">22°N</text>
<text transform="translate(33.10 349.60) scale(1.0160 1)" font-size="22.8" stroke="#000" stroke-width="0.3">20°N</text>
<text transform="translate(33.10 453.95) scale(1.0159 1)" font-size="22.8" stroke="#000" stroke-width="0.3">18°N</text>
<text transform="translate(33.10 558.30) scale(1.0159 1)" font-size="22.8" stroke="#000" stroke-width="0.3">16°N</text>
<text transform="translate(33.10 662.50) scale(1.0159 1)" font-size="22.8" stroke="#000" stroke-width="0.3">14°N</text>
<text transform="translate(33.10 767.10) scale(1.0159 1)" font-size="22.8" stroke="#000" stroke-width="0.3">12°N</text>
<text transform="translate(33.10 871.35) scale(1.0159 1)" font-size="22.8" stroke="#000" stroke-width="0.3">10°N</text>
<rect x="22.00" y="1115.8" width="139.84" height="69.8" fill="#ffffff"/>
<rect x="161.54" y="1115.8" width="139.84" height="69.8" fill="#efefef"/>
<rect x="301.08" y="1115.8" width="139.84" height="69.8" fill="#d8d8d8"/>
<rect x="440.62" y="1115.8" width="139.84" height="69.8" fill="#bfbfbf"/>
<rect x="580.16" y="1115.8" width="139.84" height="69.8" fill="#a7a7a7"/>
<rect x="719.70" y="1115.8" width="139.84" height="69.8" fill="#8e8e8e"/>
<rect x="859.24" y="1115.8" width="139.84" height="69.8" fill="#787878"/>
<rect x="998.78" y="1115.8" width="139.84" height="69.8" fill="#626262"/>
<rect x="1138.32" y="1115.8" width="139.84" height="69.8" fill="#474747"/>
<rect x="1277.86" y="1115.8" width="139.54" height="69.8" fill="#1a1a1a"/>
<rect x="22.0" y="1115.8" width="1395.4" height="69.8" fill="none" stroke="#000" stroke-width="1.7"/>
<g stroke="#000" stroke-width="1.7">
<path d="M22.00 1185.6V1193.4"/>
<path d="M161.54 1185.6V1193.4"/>
<path d="M301.08 1185.6V1193.4"/>
<path d="M440.62 1185.6V1193.4"/>
<path d="M580.16 1185.6V1193.4"/>
<path d="M719.70 1185.6V1193.4"/>
<path d="M859.24 1185.6V1193.4"/>
<path d="M998.78 1185.6V1193.4"/>
<path d="M1138.32 1185.6V1193.4"/>
<path d="M1277.86 1185.6V1193.4"/>
<path d="M1417.40 1185.6V1193.4"/>
</g>
<text transform="translate(15.51 1217.20) scale(0.9465 1)" font-size="22.8" stroke="#000" stroke-width="0.3">0</text>
<text transform="translate(147.90 1217.20) scale(0.9893 1)" font-size="22.8" stroke="#000" stroke-width="0.3">10</text>
<text transform="translate(288.00 1217.20) scale(0.9906 1)" font-size="22.8" stroke="#000" stroke-width="0.3">20</text>
<text transform="translate(427.54 1217.20) scale(0.9906 1)" font-size="22.8" stroke="#000" stroke-width="0.3">30</text>
<text transform="translate(567.61 1217.20) scale(0.9691 1)" font-size="22.8" stroke="#000" stroke-width="0.3">40</text>
<text transform="translate(706.62 1217.20) scale(0.9906 1)" font-size="22.8" stroke="#000" stroke-width="0.3">50</text>
<text transform="translate(846.16 1217.20) scale(0.9906 1)" font-size="22.8" stroke="#000" stroke-width="0.3">60</text>
<text transform="translate(985.43 1217.20) scale(1.0018 1)" font-size="22.8" stroke="#000" stroke-width="0.3">70</text>
<text transform="translate(1125.24 1217.20) scale(0.9906 1)" font-size="22.8" stroke="#000" stroke-width="0.3">80</text>
<text transform="translate(1264.78 1217.20) scale(0.9906 1)" font-size="22.8" stroke="#000" stroke-width="0.3">90</text>
<text transform="translate(1395.81 1217.20) scale(1.0132 1)" font-size="22.8" stroke="#000" stroke-width="0.3">100</text>
<text transform="translate(532.58 1245.40) scale(1.0317 1)" font-size="22.8" stroke="#000" stroke-width="0.3">Couverture nuageuse moyenne (%)</text>
</svg></body></html>
